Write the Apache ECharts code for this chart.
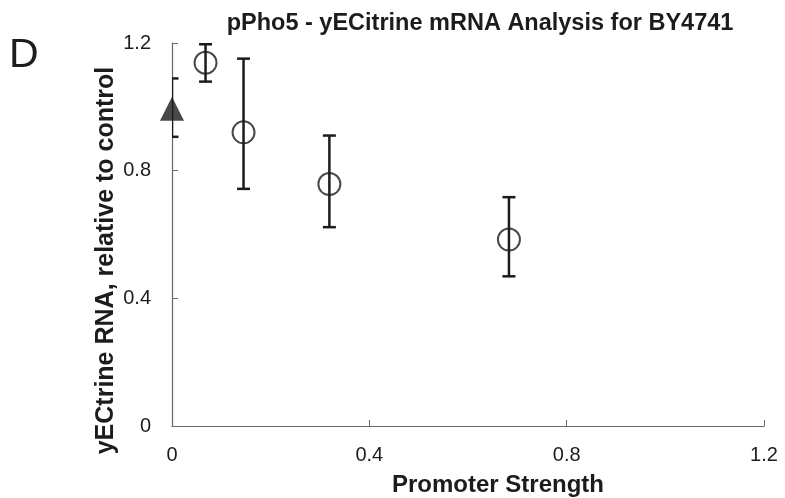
<!DOCTYPE html>
<html><head><meta charset="utf-8">
<script src="https://cdn.jsdelivr.net/npm/echarts@6/dist/echarts.min.js"></script>
<style>html,body{margin:0;padding:0;background:#fff}#c{width:785px;height:498px}</style>
</head><body><div id="c"></div>
<script>
var promoterStrength = [0.068, 0.145, 0.319, 0.683];
var rnaLevel = [1.138, 0.920, 0.758, 0.584];
var rnaLower = [1.079, 0.743, 0.623, 0.469];
var rnaUpper = [1.196, 1.151, 0.910, 0.717];
var controlX = [0];
var controlY = [0.994];
var controlLower = [0.906];
var controlUpper = [1.089];
var xTicks = [0, 0.4, 0.8, 1.2];
var yTicks = [0, 0.4, 0.8, 1.2];

var FONT = '"Liberation Sans", Arial, sans-serif';
var INK = '#1c1c1c';

function pts(xs, ys) { return xs.map(function (x, i) { return [x, ys[i]]; }); }
function errData(xs, lo, hi) { return xs.map(function (x, i) { return [x, lo[i], hi[i]]; }); }
function tickFmt(list) {
  return function (v) { var r = Math.round(v * 10) / 10; return list.indexOf(r) >= 0 ? String(r) : ''; };
}

function renderErr(params, api) {
  var x = api.value(0);
  var lo = api.coord([x, api.value(1)]);
  var hi = api.coord([x, api.value(2)]);
  var cw = 6.5;
  var st = { stroke: INK, lineWidth: 2.5 };
  return {
    type: 'group',
    children: [
      { type: 'line', shape: { x1: lo[0], y1: lo[1], x2: hi[0], y2: hi[1] }, style: st },
      { type: 'line', shape: { x1: lo[0] - cw, y1: lo[1], x2: lo[0] + cw, y2: lo[1] }, style: st },
      { type: 'line', shape: { x1: hi[0] - cw, y1: hi[1], x2: hi[0] + cw, y2: hi[1] }, style: st }
    ]
  };
}

var chart = echarts.init(document.getElementById('c'), null, { renderer: 'canvas' });
chart.setOption({
  animation: false,
  backgroundColor: '#fff',
  title: [
    { text: 'pPho5 - yECitrine mRNA Analysis for BY4741', left: 475, top: 7, textAlign: 'center',
      textStyle: { fontFamily: FONT, fontWeight: 'bold', fontSize: 23.5, color: INK } },
    { text: 'D', left: 4, top: 30, textStyle: { fontFamily: FONT, fontWeight: 'normal', fontSize: 41, color: INK } }
  ],
  grid: { left: 172, right: 21, top: 43, bottom: 72, containLabel: false, outerBoundsMode: 'none' },
  xAxis: {
    type: 'value', min: 0, max: 1.2, interval: 0.4,
    name: 'Promoter Strength', nameLocation: 'middle', nameGap: 47,
    nameTextStyle: { fontFamily: FONT, fontWeight: 'bold', fontSize: 24, color: INK, padding: [0, 0, 0, 60] },
    axisLine: { lineStyle: { color: '#666', width: 1.2 } },
    axisTick: { inside: true, length: 6, lineStyle: { color: '#666' } },
    axisLabel: { fontFamily: FONT, fontSize: 20, color: INK, margin: 19, formatter: tickFmt(xTicks) },
    splitLine: { show: false }
  },
  yAxis: {
    type: 'value', min: 0, max: 1.2, interval: 0.4,
    name: 'yECtrine RNA, relative to control', nameLocation: 'middle', nameGap: 53, nameMoveOverlap: false,
    nameTextStyle: { fontFamily: FONT, fontWeight: 'bold', fontSize: 25, color: INK, padding: [0, 52, 0, 0] },
    axisLine: { show: true, lineStyle: { color: '#666', width: 1.2 } },
    axisTick: { show: true, inside: true, length: 6, lineStyle: { color: '#666' } },
    axisLabel: { fontFamily: FONT, fontSize: 20, color: INK, margin: 21, formatter: tickFmt(yTicks) },
    splitLine: { show: false }
  },
  series: [
    { type: 'custom', name: 'err-control', data: errData(controlX, controlLower, controlUpper), renderItem: renderErr, clip: true, z: 3,
      encode: { x: 0, y: [1, 2] } },
    { type: 'scatter', name: 'control', data: pts(controlX, controlY), symbol: 'triangle', symbolSize: [24, 24],
      itemStyle: { color: INK }, clip: false, z: 4 },
    { type: 'scatter', name: 'samples', data: pts(promoterStrength, rnaLevel), symbol: 'circle', symbolSize: 22,
      itemStyle: { color: 'rgba(255,255,255,0)', borderColor: INK, borderWidth: 2 }, z: 2 },
    { type: 'custom', name: 'err-samples', data: errData(promoterStrength, rnaLower, rnaUpper), renderItem: renderErr, z: 3,
      encode: { x: 0, y: [1, 2] } }
  ]
});
</script></body></html>
